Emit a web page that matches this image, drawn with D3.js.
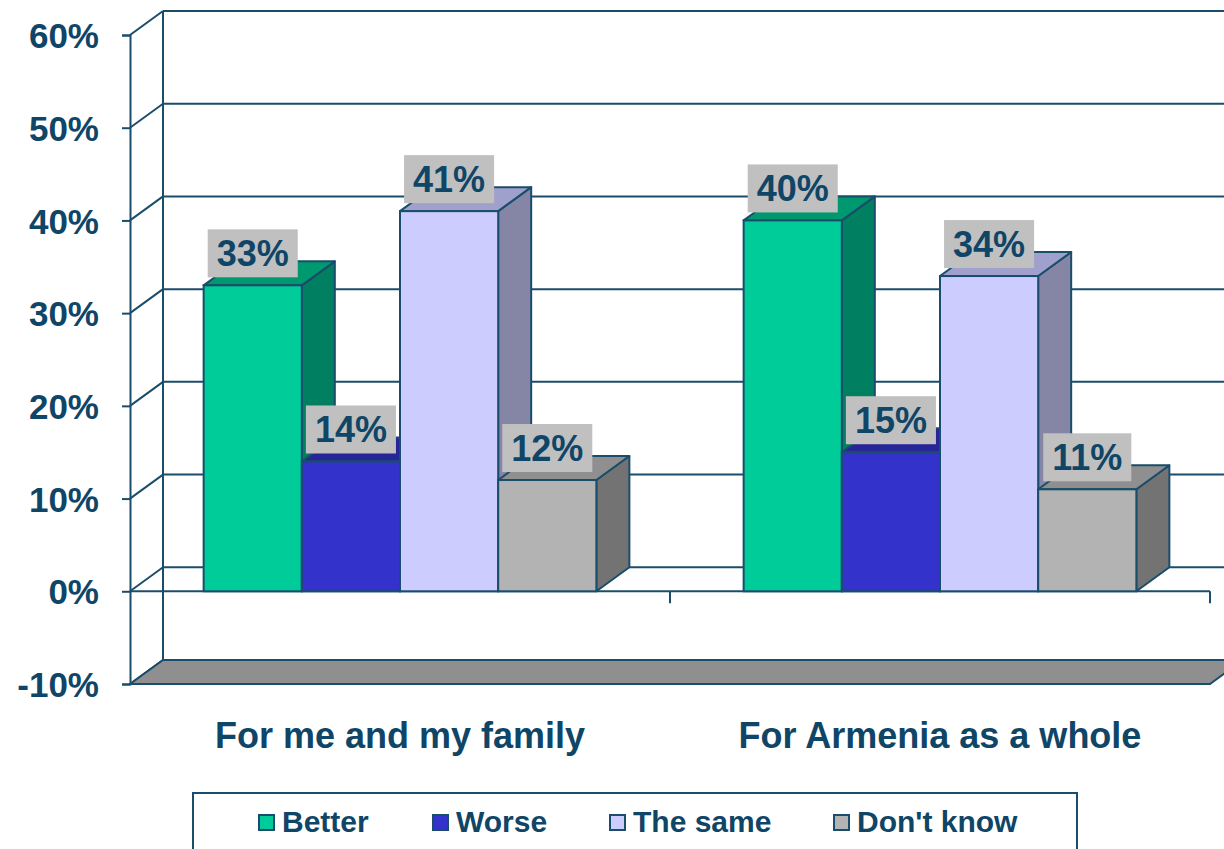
<!DOCTYPE html>
<html>
<head>
<meta charset="utf-8">
<script src="https://cdn.jsdelivr.net/npm/d3@7"></script>
<style>
  body { margin: 0; background: #fff; }
  text { font-family: "Liberation Sans", Arial, sans-serif; font-weight: bold; }
</style>
</head>
<body>
<script>
/* Data */
const categories = ["For me and my family", "For Armenia as a whole"];
const series = ["Better", "Worse", "The same", "Don't know"];
const better = [33, 40];
const worse = [14, 15];
const same = [41, 34];
const dontKnow = [12, 11];
const yTicks = [-10, 0, 10, 20, 30, 40, 50, 60];

const values = [better, worse, same, dontKnow];

/* Constants */
const W = 1224, H = 849;
const LINE = "#1a4d6c";
const TEXT = "#0f4566";
const DX = 33, DY = -24;           // depth offset of the 3d box
const FRONT = ["#00cc99", "#3333cc", "#ccccff", "#b3b3b3"];
const TOP = ["#00996f", "#262699", "#a0a0cc", "#8f8f8f"];
const SIDE = ["#008060", "#1f1f80", "#8585a6", "#737373"];

const svg = d3.select("body").append("svg")
  .attr("width", W)
  .attr("height", H);

/* Scales */
const yScale = d3.scaleLinear().domain([-10, 60]).range([684, 35]);
const xScale = d3.scaleBand().domain(categories).range([130, 1210]);
const barW = xScale.bandwidth() / 5.5;   // gap width 150%
const xBar = (ci, si) => xScale(categories[ci]) + xScale.bandwidth() / 2 + (si - 2) * barW;

const x0 = 130, x1 = 1210;

/* Back wall gridlines */
svg.append("g").selectAll("line")
  .data(yTicks)
  .enter().append("line")
  .attr("x1", x0 + DX).attr("x2", x1 + DX)
  .attr("y1", d => yScale(d) + DY).attr("y2", d => yScale(d) + DY)
  .attr("stroke", LINE).attr("stroke-width", 2);

/* Side wall diagonals */
svg.append("g").selectAll("line")
  .data(yTicks)
  .enter().append("line")
  .attr("x1", x0).attr("x2", x0 + DX)
  .attr("y1", d => yScale(d)).attr("y2", d => yScale(d) + DY)
  .attr("stroke", LINE).attr("stroke-width", 2);

/* Back vertical */
svg.append("line")
  .attr("x1", x0 + DX).attr("x2", x0 + DX)
  .attr("y1", yScale(60) + DY).attr("y2", yScale(-10) + DY)
  .attr("stroke", LINE).attr("stroke-width", 2);

/* Floor */
const yf = yScale(-10);
svg.append("path")
  .attr("d", `M${x0},${yf} L${x1},${yf} L${x1 + DX},${yf + DY} L${x0 + DX},${yf + DY} Z`)
  .attr("fill", "#8f8f8f")
  .attr("stroke", LINE).attr("stroke-width", 2);

/* Y axis */
const yAxis = d3.axisLeft(yScale)
  .tickValues(yTicks)
  .tickFormat(d => d + "%")
  .tickSize(8)
  .tickPadding(23);

const ax = svg.append("g")
  .attr("transform", `translate(${x0},0)`)
  .call(yAxis);
ax.select(".domain").attr("stroke", LINE).attr("stroke-width", 2);
ax.selectAll(".tick line").attr("stroke", LINE).attr("stroke-width", 2);
ax.selectAll(".tick text")
  .attr("fill", TEXT)
  .style("font-size", "35px")
  .attr("dy", "0.36em");

/* Front zero line and category ticks */
const y0 = yScale(0);
svg.append("line")
  .attr("x1", x0).attr("x2", x1)
  .attr("y1", y0).attr("y2", y0)
  .attr("stroke", LINE).attr("stroke-width", 2);

svg.append("g").selectAll("line")
  .data(categories)
  .enter().append("line")
  .attr("x1", d => xScale(d) + xScale.bandwidth())
  .attr("x2", d => xScale(d) + xScale.bandwidth())
  .attr("y1", y0).attr("y2", y0 + 12)
  .attr("stroke", LINE).attr("stroke-width", 2);

/* Bars */
const bars = [];
categories.forEach((c, ci) => {
  series.forEach((s, si) => {
    bars.push({ ci, si, v: values[si][ci] });
  });
});

const bar = svg.append("g").selectAll("g")
  .data(bars)
  .enter().append("g");

bar.append("path")  // side
  .attr("d", d => {
    const x = xBar(d.ci, d.si) + barW, yt = yScale(d.v);
    return `M${x},${y0} L${x},${yt} L${x + DX},${yt + DY} L${x + DX},${y0 + DY} Z`;
  })
  .attr("fill", d => SIDE[d.si])
  .attr("stroke", LINE).attr("stroke-width", 2).attr("stroke-linejoin", "round");

bar.append("path")  // top
  .attr("d", d => {
    const x = xBar(d.ci, d.si), yt = yScale(d.v);
    return `M${x},${yt} L${x + barW},${yt} L${x + barW + DX},${yt + DY} L${x + DX},${yt + DY} Z`;
  })
  .attr("fill", d => TOP[d.si])
  .attr("stroke", LINE).attr("stroke-width", 2).attr("stroke-linejoin", "round");

bar.append("rect")  // front
  .attr("x", d => xBar(d.ci, d.si))
  .attr("y", d => yScale(d.v))
  .attr("width", barW)
  .attr("height", d => y0 - yScale(d.v))
  .attr("fill", d => FRONT[d.si])
  .attr("stroke", LINE).attr("stroke-width", 2);

/* Value labels */
const lab = svg.append("g").selectAll("g")
  .data(bars)
  .enter().append("g")
  .attr("transform", d => `translate(${xBar(d.ci, d.si) + barW / 2},${yScale(d.v) - 8})`);

lab.append("rect").attr("fill", "#c0c0c0");
const labText = lab.append("text")
  .attr("text-anchor", "middle")
  .attr("y", -11)
  .attr("fill", TEXT)
  .style("font-size", "36px")
  .text(d => d.v + "%");

labText.each(function (d) {
  const w = this.getComputedTextLength() + 18;
  d3.select(this.parentNode).select("rect")
    .attr("x", -w / 2).attr("y", -48)
    .attr("width", w).attr("height", 48);
});

/* Category labels */
svg.append("g").selectAll("text")
  .data(categories)
  .enter().append("text")
  .attr("x", d => xScale(d) + xScale.bandwidth() / 2)
  .attr("y", 748)
  .attr("text-anchor", "middle")
  .attr("fill", TEXT)
  .style("font-size", "36px")
  .text(d => d);

/* Legend */
svg.append("rect")
  .attr("x", 193).attr("y", 793)
  .attr("width", 884).attr("height", 70)
  .attr("fill", "#fff")
  .attr("stroke", LINE).attr("stroke-width", 2);

const legendX = [259, 433, 610, 834];
const leg = svg.append("g").selectAll("g")
  .data(series)
  .enter().append("g")
  .attr("transform", (d, i) => `translate(${legendX[i]},815)`);

leg.append("rect")
  .attr("width", 15).attr("height", 15)
  .attr("fill", (d, i) => FRONT[i])
  .attr("stroke", LINE).attr("stroke-width", 2);

leg.append("text")
  .attr("x", 23).attr("y", 17)
  .attr("fill", TEXT)
  .style("font-size", "30px")
  .text(d => d);
</script>
</body>
</html>
